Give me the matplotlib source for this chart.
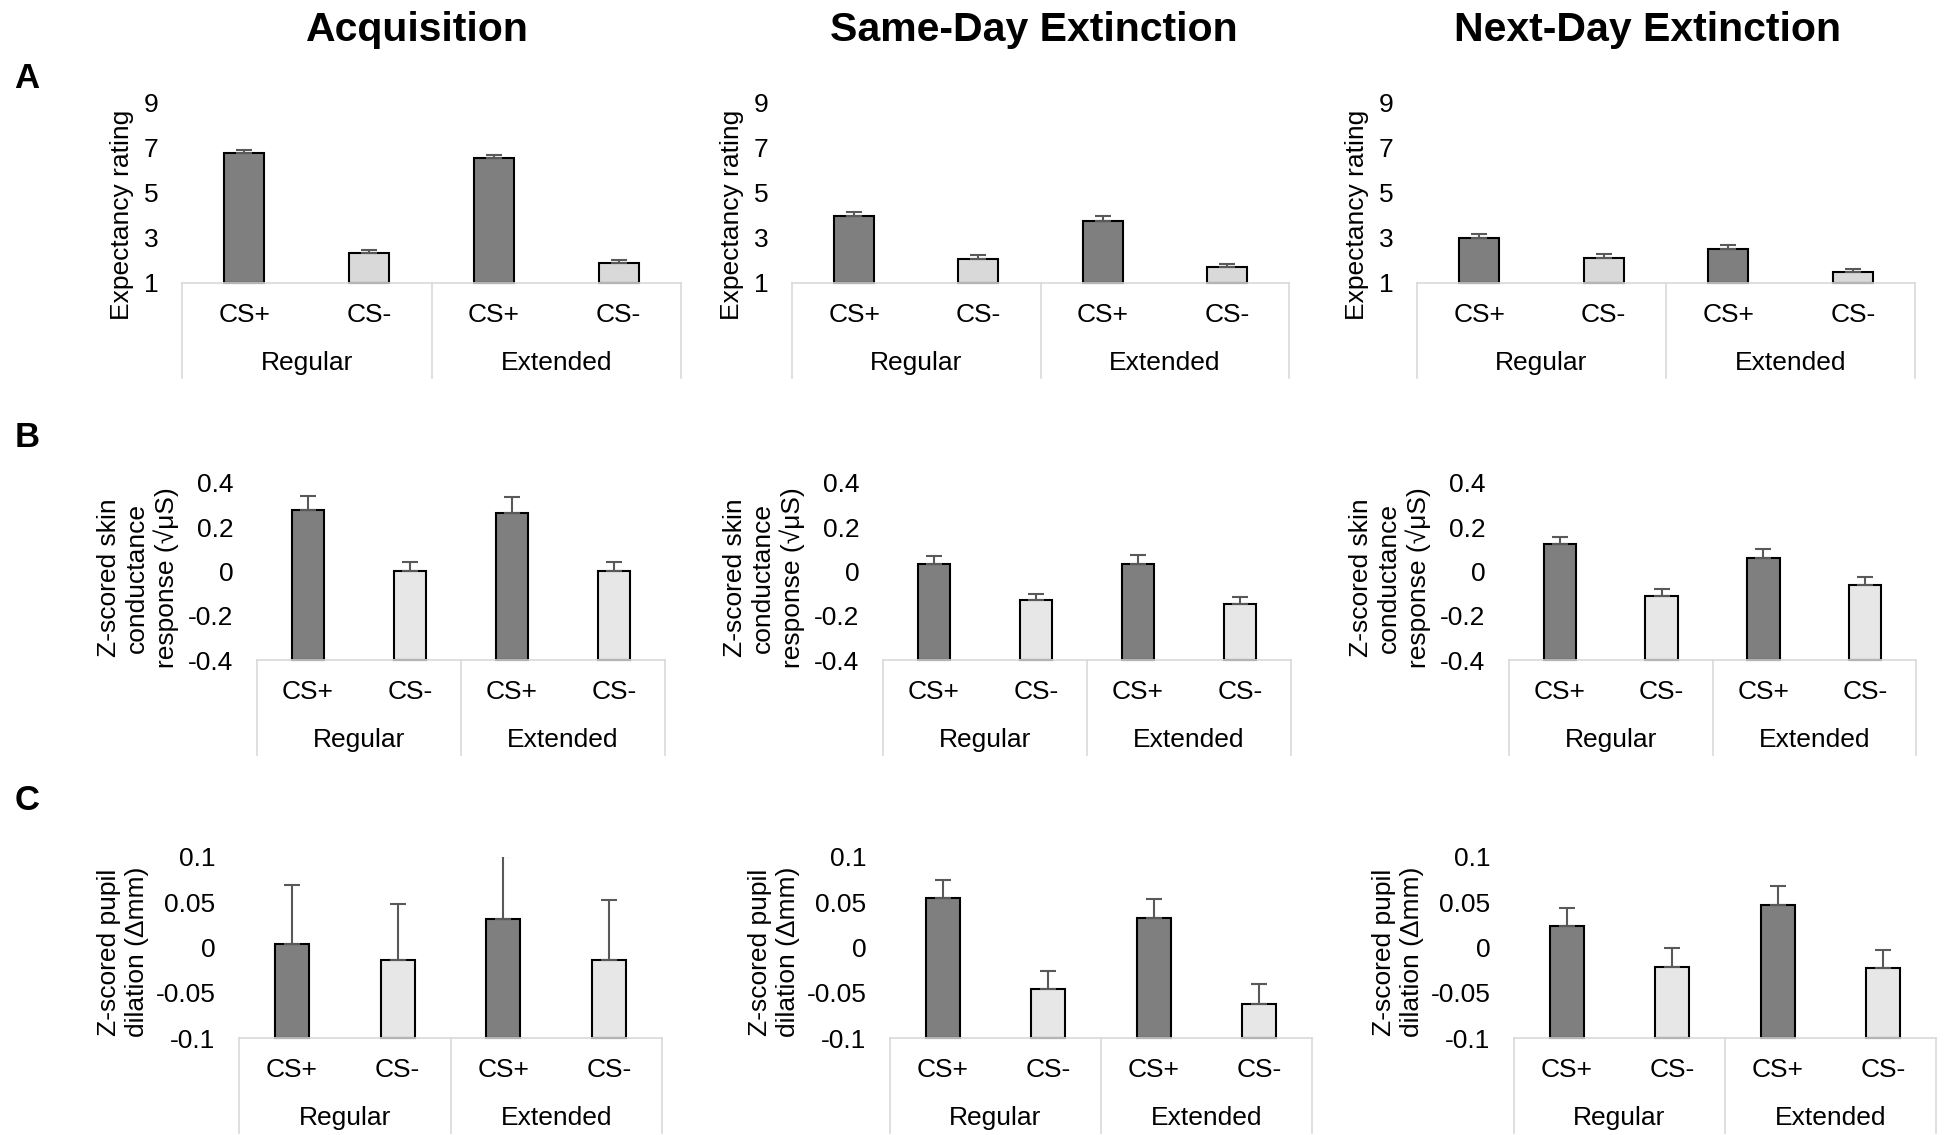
import matplotlib
matplotlib.use("Agg")
import matplotlib.pyplot as plt
import numpy as np

plt.rcParams['font.family'] = ['Liberation Sans', 'DejaVu Sans']
plt.rcParams['axes.unicode_minus'] = False

W, H = 1946, 1135

phases = ['Acquisition', 'Same-Day Extinction', 'Next-Day Extinction']
stimuli = ['CS+', 'CS-', 'CS+', 'CS-']
groups = ['Regular', 'Extended']

# A: expectancy rating (Regular CS+, Regular CS-, Extended CS+, Extended CS-)
exp_acq = [6.75, 2.32, 6.51, 1.89]
exp_acq_err = [0.13, 0.13, 0.13, 0.13]
exp_sde = [3.95, 2.06, 3.72, 1.69]
exp_sde_err = [0.18, 0.19, 0.23, 0.15]
exp_nde = [3.01, 2.11, 2.49, 1.47]
exp_nde_err = [0.17, 0.19, 0.19, 0.16]

# B: z-scored skin conductance response
scr_acq = [0.28, 0.003, 0.265, 0.003]
scr_acq_err = [0.06, 0.04, 0.07, 0.04]
scr_sde = [0.036, -0.131, 0.036, -0.149]
scr_sde_err = [0.035, 0.03, 0.04, 0.033]
scr_nde = [0.123, -0.111, 0.06, -0.06]
scr_nde_err = [0.033, 0.03, 0.04, 0.034]

# C: z-scored pupil dilation
pup_acq = [0.0037, -0.014, 0.032, -0.014]
pup_acq_err = [0.065, 0.062, 0.069, 0.067]
pup_sde = [0.055, -0.046, 0.033, -0.062]
pup_sde_err = [0.02, 0.02, 0.021, 0.022]
pup_nde = [0.024, -0.021, 0.047, -0.023]
pup_nde_err = [0.02, 0.02, 0.021, 0.02]

rows = [
    dict(letter='A', ylabel='Expectancy rating', ylim=(1, 9),
         ticks=[1, 3, 5, 7, 9], ticklabels=['1', '3', '5', '7', '9'],
         vals=[exp_acq, exp_sde, exp_nde], errs=[exp_acq_err, exp_sde_err, exp_nde_err],
         ypix=(102, 283), xpix=[(182, 681), (792, 1289), (1417, 1915)],
         lab_dx=60, lab_y=215, letter_y=78, light='#d9d9d9'),
    dict(letter='B', ylabel='Z-scored skin\nconductance\nresponse (\u221a\u03bcS)', ylim=(-0.4, 0.4),
         ticks=[-0.4, -0.2, 0, 0.2, 0.4], ticklabels=['-0.4', '-0.2', '0', '0.2', '0.4'],
         vals=[scr_acq, scr_sde, scr_nde], errs=[scr_acq_err, scr_sde_err, scr_nde_err],
         ypix=(483, 660), xpix=[(257, 665), (883, 1291), (1509, 1916)],
         lab_dx=119, lab_y=578, letter_y=438, light='#e7e7e7'),
    dict(letter='C', ylabel='Z-scored pupil\ndilation (\u0394mm)', ylim=(-0.1, 0.1),
         ticks=[-0.1, -0.05, 0, 0.05, 0.1], ticklabels=['-0.1', '-0.05', '0', '0.05', '0.1'],
         vals=[pup_acq, pup_sde, pup_nde], errs=[pup_acq_err, pup_sde_err, pup_nde_err],
         ypix=(857, 1038), xpix=[(239, 662), (890, 1312), (1514, 1936)],
         lab_dx=116, lab_y=952, letter_y=800, light='#e7e7e7'),
]

title_x = [417, 1034, 1647]
fs = 19
box_col = '#d9d9d9'

fig = plt.figure(figsize=(W / 100, H / 100), dpi=100)

for j, t in enumerate(phases):
    fig.text(title_x[j] / W, 1 - 30 / H, t, ha='center', va='center',
             fontsize=29.5, fontweight='bold')

for row in rows:
    fig.text(27 / W, 1 - row['letter_y'] / H, row['letter'], ha='center', va='center',
             fontsize=25, fontweight='bold')
    y0, y1 = row['ypix']
    hpx = y1 - y0
    for j in range(3):
        x0, x1 = row['xpix'][j]
        ax = fig.add_axes([x0 / W, 1 - y1 / H, (x1 - x0) / W, hpx / H])
        lo, hi = row['ylim']
        x = np.arange(4)
        v = np.array(row['vals'][j])
        e = np.array(row['errs'][j])
        ax.bar(x, v - lo, bottom=lo, width=0.32,
               color=['#7f7f7f', row['light'], '#7f7f7f', row['light']],
               edgecolor='black', linewidth=1.5, zorder=2, clip_on=False)
        ax.errorbar(x, v, yerr=[np.zeros(4), e], fmt='none', ecolor='#595959',
                    elinewidth=1.5, capsize=5.5, capthick=1.5, zorder=3)
        ax.set_xlim(-0.5, 3.5)
        ax.set_ylim(lo, hi)
        ax.set_yticks(row['ticks'])
        ax.set_yticklabels(row['ticklabels'], fontsize=fs)
        ax.tick_params(axis='y', length=0, pad=17)
        ax.set_xticks([])
        for s in ['left', 'top', 'right']:
            ax.spines[s].set_visible(False)
        ax.spines['bottom'].set_color(box_col)
        ax.spines['bottom'].set_linewidth(1.2)
        ax.patch.set_alpha(0)

        # multi-level category box
        tr = ax.get_xaxis_transform()
        for xv in [-0.5, 1.5, 3.5]:
            ax.plot([xv, xv], [0, -95 / hpx], transform=tr, color=box_col,
                    lw=1.2, clip_on=False)
        for i, s in enumerate(stimuli):
            ax.text(i, -32 / hpx, s, transform=tr, ha='center', va='center', fontsize=fs)
        for g, xv in zip(groups, [0.5, 2.5]):
            ax.text(xv, -80 / hpx, g, transform=tr, ha='center', va='center', fontsize=fs)

        fig.text((x0 - row['lab_dx']) / W, 1 - row['lab_y'] / H, row['ylabel'],
                 rotation=90, ha='center', va='center', fontsize=fs,
                 multialignment='center')

fig.savefig('out.png', dpi=100)
